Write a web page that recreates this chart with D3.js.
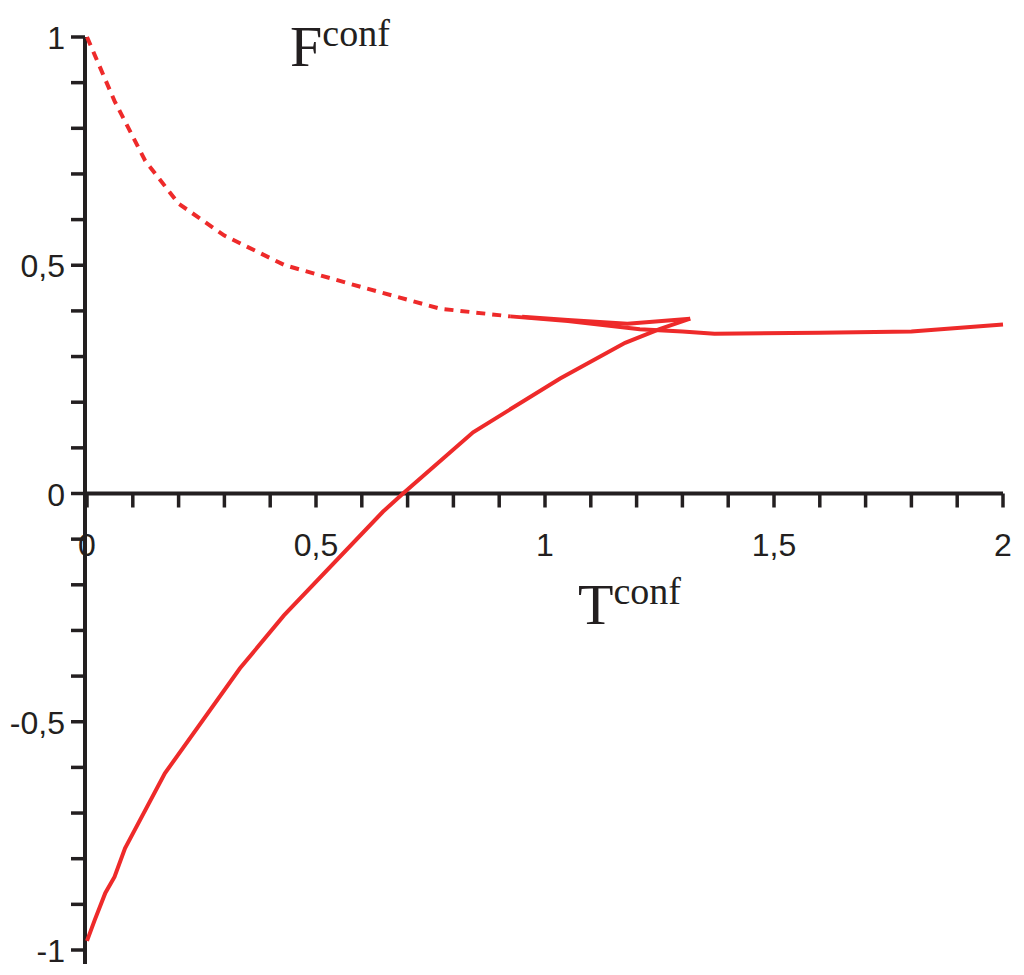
<!DOCTYPE html>
<html><head><meta charset="utf-8">
<script src="https://cdn.jsdelivr.net/npm/d3@7"></script>
<style>body{margin:0;background:#fff}</style>
</head><body>
<svg id="chart" width="1024" height="975"></svg>
<script>
// F^conf vs T^conf branches
const dashedBranch = [[0,1],[0.06,0.86],[0.127,0.729],[0.2,0.635],[0.3,0.565],[0.432,0.5],[0.6,0.452],[0.77,0.405],[0.924,0.388]];
const upperBranch = [[0.924,0.388],[1.05,0.378],[1.207,0.36],[1.3,0.355],[1.37,0.35],[1.6,0.352],[1.8,0.355],[2,0.37]];
const cuspBranch = [[1.317,0.383],[1.18,0.372],[1.05,0.38],[0.95,0.387]];
const lowerBranch = [[0,-0.98],[0.017,-0.934],[0.04,-0.875],[0.06,-0.84],[0.083,-0.777],[0.17,-0.613],[0.334,-0.383],[0.43,-0.267],[0.646,-0.04],[0.69,0],[0.843,0.134],[1.033,0.252],[1.175,0.33],[1.25,0.36],[1.317,0.383]];
const xTickLabels = ['0', '0,5', '1', '1,5', '2'];
const yTickLabels = ['-1', '-0,5', '0', '0,5', '1'];

const svg = d3.select('#chart');
const x = d3.scaleLinear().domain([0, 2]).range([87, 1003]);
const y = d3.scaleLinear().domain([-1, 1]).range([950, 37]);
const ink = '#231f20';
const red = '#ee2a2a';

// x axis with minor ticks every 0.1
svg.append('line').attr('x1', x(0)).attr('x2', x(2)).attr('y1', y(0)).attr('y2', y(0))
  .attr('stroke', ink).attr('stroke-width', 4);
d3.range(0, 21).forEach(i => {
  svg.append('line').attr('x1', x(i / 10)).attr('x2', x(i / 10))
    .attr('y1', y(0)).attr('y2', y(0) + 14).attr('stroke', ink).attr('stroke-width', 3.5);
});
xTickLabels.forEach((t, i) => {
  svg.append('text').attr('x', x(i * 0.5)).attr('y', y(0) + 62).attr('text-anchor', 'middle')
    .attr('font-family', 'Liberation Sans, Arial').attr('font-size', 32).attr('fill', ink).text(t);
});

// y axis
svg.append('line').attr('x1', x(0) - 2).attr('x2', x(0) - 2).attr('y1', y(1)).attr('y2', y(-1) + 14)
  .attr('stroke', ink).attr('stroke-width', 4);
d3.range(-10, 11).forEach(i => {
  svg.append('line').attr('x1', x(0) - 16).attr('x2', x(0) - 2)
    .attr('y1', y(i / 10)).attr('y2', y(i / 10)).attr('stroke', ink).attr('stroke-width', 3.5);
});
yTickLabels.forEach((t, i) => {
  svg.append('text').attr('x', x(0) - 22).attr('y', y(-1 + i * 0.5) + 12).attr('text-anchor', 'end')
    .attr('font-family', 'Liberation Sans, Arial').attr('font-size', 32).attr('fill', ink).text(t);
});

const line = d3.line().x(d => x(d[0])).y(d => y(d[1]));
svg.append('path').attr('d', line(dashedBranch)).attr('fill', 'none')
  .attr('stroke', red).attr('stroke-width', 4).attr('stroke-dasharray', '9,7');
[upperBranch, cuspBranch, lowerBranch].forEach(b => {
  svg.append('path').attr('d', line(b)).attr('fill', 'none').attr('stroke', red).attr('stroke-width', 4);
});

// axis titles
const title = (tx, ty, base) => {
  const t = svg.append('text').attr('x', tx).attr('y', ty)
    .attr('font-family', 'Liberation Serif, Times New Roman').attr('fill', ink);
  t.append('tspan').attr('font-size', 58).text(base);
  t.append('tspan').attr('font-size', 38).attr('dy', -20).text('conf');
};
title(290, 66, 'F');
title(578, 624, 'T');
</script>
</body></html>
